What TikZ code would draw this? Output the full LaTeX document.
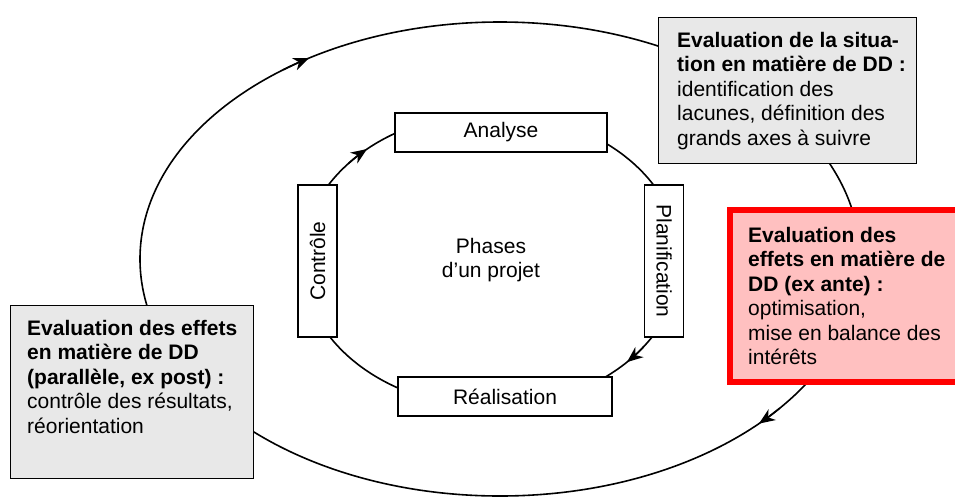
\documentclass[tikz,border=0pt]{standalone}
\usepackage{fontspec}
\setmainfont{Liberation Sans}
\usetikzlibrary{arrows.meta,calc}
\definecolor{boxgray}{RGB}{232,232,232}
\definecolor{alertfill}{RGB}{255,192,192}
\definecolor{alertred}{RGB}{255,0,0}
\begin{document}
\begin{tikzpicture}[x=1pt,y=-1pt,
  every node/.style={font=\fontsize{21}{24.5}\selectfont},
  cycleline/.style={line width=1.6pt},
  flowtip/.style={cycleline,-{Stealth[length=16pt,width=13pt,inset=5pt]}},
  phasebox/.style={draw,line width=1.8pt,fill=white,inner sep=0pt,minimum height=39pt},
  greybox/.style={draw,line width=1.8pt,fill=boxgray,inner sep=0pt},
  alertbox/.style={draw=alertred,line width=6pt,fill=alertfill,inner sep=0pt},
  boxtext/.style={anchor=north west,align=left,inner sep=0pt}
]
\clip (0,0) rectangle (955,496);

% the two cycles: project phases (inner) and sustainability assessments (outer)
\coordinate (oc) at (500,259);
\coordinate (ic) at (491,260);
\draw[cycleline] (oc) ellipse [x radius=360, y radius=237];
\draw[cycleline] (ic) ellipse [x radius=189, y radius=147];

% direction marks along the cycles
\path (oc) ++(233:360 and 237) coordinate (o1);
\draw[flowtip] (o1) arc[start angle=233, end angle=238, x radius=360, y radius=237];
\path (oc) ++(39:360 and 237) coordinate (o2);
\draw[flowtip] (o2) arc[start angle=39, end angle=44, x radius=360, y radius=237];
\path (ic) ++(221:189 and 147) coordinate (i1);
\draw[flowtip] (i1) arc[start angle=221, end angle=229, x radius=189, y radius=147];
\path (ic) ++(36:189 and 147) coordinate (i2);
\draw[flowtip] (i2) arc[start angle=36, end angle=44, x radius=189, y radius=147];

% project phases
\node[phasebox, minimum width=212pt] (analyse) at (501,132.5) {Analyse};
\node[phasebox, minimum width=152pt, rotate=-90] (planif) at (664,261) {Planification};
\node[phasebox, minimum width=214pt] (realis) at (505,396.5) {Réalisation};
\node[phasebox, minimum width=152pt, rotate=90] (controle) at (317.5,261) {Contrôle};
\node[align=center, inner sep=0pt] (phases) at (491,260) {Phases\\d’un projet};

% assessment boxes
\node[greybox, minimum width=258pt, minimum height=146pt] (situation) at (787.5,90.5) {};
\node[boxtext] (situation-txt) at (677,31.8)
  {\textbf{Evaluation de la situa-}\\\textbf{tion en matière de DD :}\\identification des\\lacunes, définition des\\grands axes à suivre};

\node[alertbox, minimum width=260pt, minimum height=172pt] (exante) at (860,296) {};
\node[boxtext] (exante-txt) at (748,226.8)
  {\textbf{Evaluation des}\\\textbf{effets en matière de}\\\textbf{DD (ex ante) :}\\optimisation,\\mise en balance des\\intérêts};

\node[greybox, minimum width=243pt, minimum height=173pt] (expost) at (132,392) {};
\node[boxtext] (expost-txt) at (27,319.8)
  {\textbf{Evaluation des effets}\\\textbf{en matière de DD}\\\textbf{(parallèle, ex post) :}\\contrôle des résultats,\\réorientation};
\end{tikzpicture}
\end{document}
